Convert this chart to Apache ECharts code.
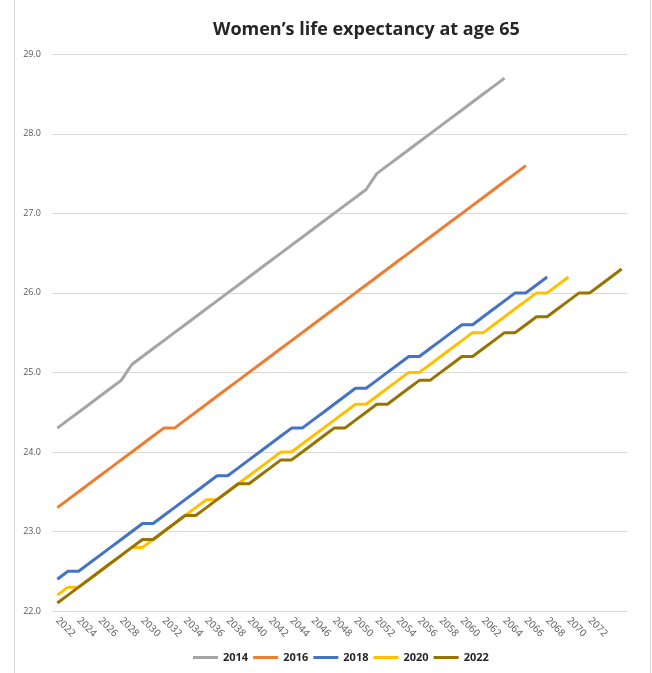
<!DOCTYPE html>
<html>
<head>
<meta charset="utf-8">
<script src="https://cdn.jsdelivr.net/npm/echarts@6/dist/echarts.min.js"></script>
<style>
html,body{margin:0;padding:0;background:#fff;}
#chart{width:652px;height:673px;}
</style>
</head>
<body>
<div id="chart"></div>
<script>
// Years on the category axis
const years = [];
for (let y = 2022; y <= 2075; y++) years.push(String(y));

const yTicks = [22.0, 23.0, 24.0, 25.0, 26.0, 27.0, 28.0, 29.0];

const s2014 = [24.3,24.4,24.5,24.6,24.7,24.8,24.9,25.1,25.2,25.3,25.4,25.5,25.6,25.7,25.8,25.9,26.0,26.1,26.2,26.3,26.4,26.5,26.6,26.7,26.8,26.9,27.0,27.1,27.2,27.3,27.5,27.6,27.7,27.8,27.9,28.0,28.1,28.2,28.3,28.4,28.5,28.6,28.7];
const s2016 = [23.3,23.4,23.5,23.6,23.7,23.8,23.9,24.0,24.1,24.2,24.3,24.3,24.4,24.5,24.6,24.7,24.8,24.9,25.0,25.1,25.2,25.3,25.4,25.5,25.6,25.7,25.8,25.9,26.0,26.1,26.2,26.3,26.4,26.5,26.6,26.7,26.8,26.9,27.0,27.1,27.2,27.3,27.4,27.5,27.6];
const s2018 = [22.4,22.5,22.5,22.6,22.7,22.8,22.9,23.0,23.1,23.1,23.2,23.3,23.4,23.5,23.6,23.7,23.7,23.8,23.9,24.0,24.1,24.2,24.3,24.3,24.4,24.5,24.6,24.7,24.8,24.8,24.9,25.0,25.1,25.2,25.2,25.3,25.4,25.5,25.6,25.6,25.7,25.8,25.9,26.0,26.0,26.1,26.2];
const s2020 = [22.2,22.3,22.3,22.4,22.5,22.6,22.7,22.8,22.8,22.9,23.0,23.1,23.2,23.3,23.4,23.4,23.5,23.6,23.7,23.8,23.9,24.0,24.0,24.1,24.2,24.3,24.4,24.5,24.6,24.6,24.7,24.8,24.9,25.0,25.0,25.1,25.2,25.3,25.4,25.5,25.5,25.6,25.7,25.8,25.9,26.0,26.0,26.1,26.2];
const s2022 = [22.1,22.2,22.3,22.4,22.5,22.6,22.7,22.8,22.9,22.9,23.0,23.1,23.2,23.2,23.3,23.4,23.5,23.6,23.6,23.7,23.8,23.9,23.9,24.0,24.1,24.2,24.3,24.3,24.4,24.5,24.6,24.6,24.7,24.8,24.9,24.9,25.0,25.1,25.2,25.2,25.3,25.4,25.5,25.5,25.6,25.7,25.7,25.8,25.9,26.0,26.0,26.1,26.2,26.3];

const seriesNames = ['2014','2016','2018','2020','2022'];
const seriesData = [s2014, s2016, s2018, s2020, s2022];
const colors = ['#A5A5A5','#ED7D31','#4472C4','#FFC000','#997300'];

const chart = echarts.init(document.getElementById('chart'));
chart.setOption({
  animation: false,
  backgroundColor: '#fff',
  title: {
    text: 'Women\u2019s life expectancy at age 65',
    left: 208, top: 16,
    textStyle: {fontFamily: 'Open Sans', fontWeight: 'bold', fontSize: 18, color: '#262626'}
  },
  graphic: [
    {type:'line', shape:{x1:14.5,y1:0,x2:14.5,y2:673}, style:{stroke:'#d9d9d9', lineWidth:1}},
    {type:'line', shape:{x1:650.5,y1:0,x2:650.5,y2:673}, style:{stroke:'#d9d9d9', lineWidth:1}}
  ],
  legend: {
    bottom: 5, left: 188,
    itemWidth: 25, itemHeight: 3, itemGap: 5,
    icon: 'rect',
    textStyle: {fontFamily: 'Open Sans', fontWeight: 'bold', fontSize: 11, color: '#262626'},
    data: seriesNames
  },
  grid: {left: 52, right: 25, top: 54.3, bottom: 62, containLabel: false, outerBoundsMode: 'none'},
  xAxis: {
    type: 'category',
    data: years,
    boundaryGap: true,
    axisLine: {show: true, lineStyle: {color: '#d9d9d9'}},
    axisTick: {show: false},
    axisLabel: {
      rotate: -45,
      margin: 8,
      fontSize: 10,
      color: '#595959',
      fontFamily: 'Open Sans',
      interval: function (i) { return i % 2 === 0 && i <= 50; }
    },
    splitLine: {show: false}
  },
  yAxis: {
    type: 'value',
    min: yTicks[0], max: yTicks[yTicks.length - 1], interval: 1,
    axisLine: {show: false},
    axisTick: {show: false},
    axisLabel: {margin: 11, fontSize: 9, color: '#595959', fontFamily: 'Open Sans',
      formatter: function (v) { return v.toFixed(1); }},
    splitLine: {lineStyle: {color: '#d9d9d9', width: 1}}
  },
  series: seriesNames.map(function (n, i) {
    return {
      name: n, type: 'line', data: seriesData[i],
      showSymbol: false, symbol: 'none',
      lineStyle: {color: colors[i], width: 3},
      itemStyle: {color: colors[i]},
      z: 2 + i
    };
  })
});
</script>
</body>
</html>
